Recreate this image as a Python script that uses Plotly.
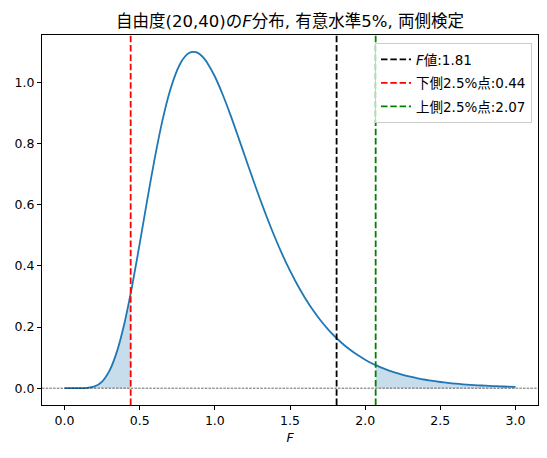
import plotly.graph_objects as go

# F(20,40) density values
x_vals = [0.00, 0.05, 0.10, 0.15, 0.20, 0.25, 0.30, 0.35, 0.40, 0.44, 0.45, 0.50, 0.55, 0.60,
          0.65, 0.70, 0.75, 0.775, 0.80, 0.825, 0.85, 0.875, 0.90, 0.925, 0.95, 1.00, 1.05,
          1.10, 1.15, 1.20, 1.25,
          1.30, 1.35, 1.40, 1.45, 1.50, 1.55, 1.60, 1.65, 1.70, 1.75, 1.80, 1.85, 1.90,
          1.95, 2.00, 2.05, 2.07, 2.10, 2.15, 2.20, 2.25, 2.30, 2.35, 2.40, 2.45, 2.50,
          2.55, 2.60, 2.65, 2.70, 2.75, 2.80, 2.85, 2.90, 2.95, 3.00]
y_vals = [0.0, 0.0000002, 0.000045, 0.00086, 0.00574, 0.0218, 0.0581, 0.1221, 0.2160, 0.3102,
          0.3359, 0.4730, 0.6157, 0.7524, 0.8732, 0.9711, 1.0420, 1.0669, 1.0848, 1.0960,
          1.1008, 1.0996, 1.0928, 1.0810, 1.0645, 1.0201, 0.9638,
          0.8995, 0.8303, 0.7593, 0.6886, 0.6200, 0.5546, 0.4933,
          0.4366, 0.3847, 0.3376, 0.2953, 0.2575, 0.2240, 0.1944, 0.1684, 0.1455, 0.1256,
          0.1083, 0.0933, 0.0802, 0.0755, 0.0690, 0.0593, 0.0509, 0.0437, 0.0375, 0.0322,
          0.0276, 0.0237, 0.0203, 0.0174, 0.0149, 0.0128, 0.0110, 0.00945, 0.00812,
          0.00698, 0.00600, 0.00516, 0.00444]

f_value = 1.81
lower_point = 0.44
upper_point = 2.07

title_text = "自由度(20,40)の<i>F</i>分布, 有意水準5%, 両側検定"
label_f = "<i>F</i>値:1.81"
label_lower = "下側2.5%点:0.44"
label_upper = "上側2.5%点:2.07"

FONT = "DejaVu Sans, Noto Sans CJK JP, sans-serif"
C0 = "#1f77b4"
FILL = "rgba(31,119,180,0.25)"

# page has an 8px body margin, so the figure is 8px smaller in each direction
W, H = 539, 450
OFF = 8
PL, PR, PT, PB = 42, 538, 35, 405  # target plot box in window pixels

lx = [x for x in x_vals if x <= lower_point]
ly = [y for x, y in zip(x_vals, y_vals) if x <= lower_point]
ux = [x for x in x_vals if x >= upper_point]
uy = [y for x, y in zip(x_vals, y_vals) if x >= upper_point]

fig = go.Figure()
fig.add_trace(go.Scatter(x=lx, y=ly, mode="lines", line=dict(width=0), fill="tozeroy",
                         fillcolor=FILL, showlegend=False, hoverinfo="skip"))
fig.add_trace(go.Scatter(x=ux, y=uy, mode="lines", line=dict(width=0), fill="tozeroy",
                         fillcolor=FILL, showlegend=False, hoverinfo="skip"))
fig.add_trace(go.Scatter(x=x_vals, y=y_vals, mode="lines", line=dict(color=C0, width=1.8, shape="spline", smoothing=0.8),
                         showlegend=False))

dash_main = "6.5px,2.8px"
for i, (xv, col, name) in enumerate([(f_value, "black", label_f), (lower_point, "red", label_lower),
                                      (upper_point, "green", label_upper)]):
    fig.add_shape(type="line", x0=xv, x1=xv, y0=0, y1=1, xref="x", yref="paper",
                  line=dict(color=col, width=1.8, dash=dash_main), showlegend=True, name=name,
                  legendgroup=f"g{i}")

fig.add_shape(type="line", x0=0, x1=1, y0=0, y1=0, xref="paper", yref="y",
              line=dict(color="black", width=0.6, dash="2.5px,1.2px"), showlegend=False)

plot_w = PR - PL
plot_h = PB - PT
fig.update_layout(
    width=W, height=H,
    margin=dict(l=PL - OFF, r=W + OFF - PR, t=PT - OFF, b=H + OFF - PB),
    paper_bgcolor="white", plot_bgcolor="white",
    font=dict(family=FONT, size=12, color="black"),
    title=dict(text=title_text, x=((PL + PR) / 2 - OFF) / W, xanchor="center", y=1 - (21 - OFF) / H,
               yanchor="middle", font=dict(size=16.5, family=FONT, color="black")),
    xaxis=dict(range=[-0.15, 3.15], tickvals=[0, 0.5, 1.0, 1.5, 2.0, 2.5, 3.0],
               ticktext=["0.0", "0.5", "1.0", "1.5", "2.0", "2.5", "3.0"],
               showgrid=False, zeroline=False, showline=True, linecolor="black", linewidth=1, mirror=True,
               ticks="outside", ticklen=4, tickcolor="black", tickfont=dict(size=12.5), automargin=False,
               title=dict(text="<i>F</i>", font=dict(size=12.5), standoff=6)),
    yaxis=dict(range=[-0.055, 1.156], tickvals=[0, 0.2, 0.4, 0.6, 0.8, 1.0],
               ticktext=["0.0", "0.2", "0.4", "0.6", "0.8", "1.0"],
               showgrid=False, zeroline=False, showline=True, linecolor="black", linewidth=1, mirror=True,
               ticks="outside", ticklen=4, tickcolor="black", tickfont=dict(size=12.5), automargin=False),
    legend=dict(x=(532 - PL) / plot_w, y=(PB - 43) / plot_h, xanchor="right", yanchor="top",
                bgcolor="rgba(255,255,255,0.8)", bordercolor="#cccccc", borderwidth=1,
                font=dict(size=13.5), tracegroupgap=3, itemwidth=30),
    showlegend=True,
)

fig.write_html("out.html")
